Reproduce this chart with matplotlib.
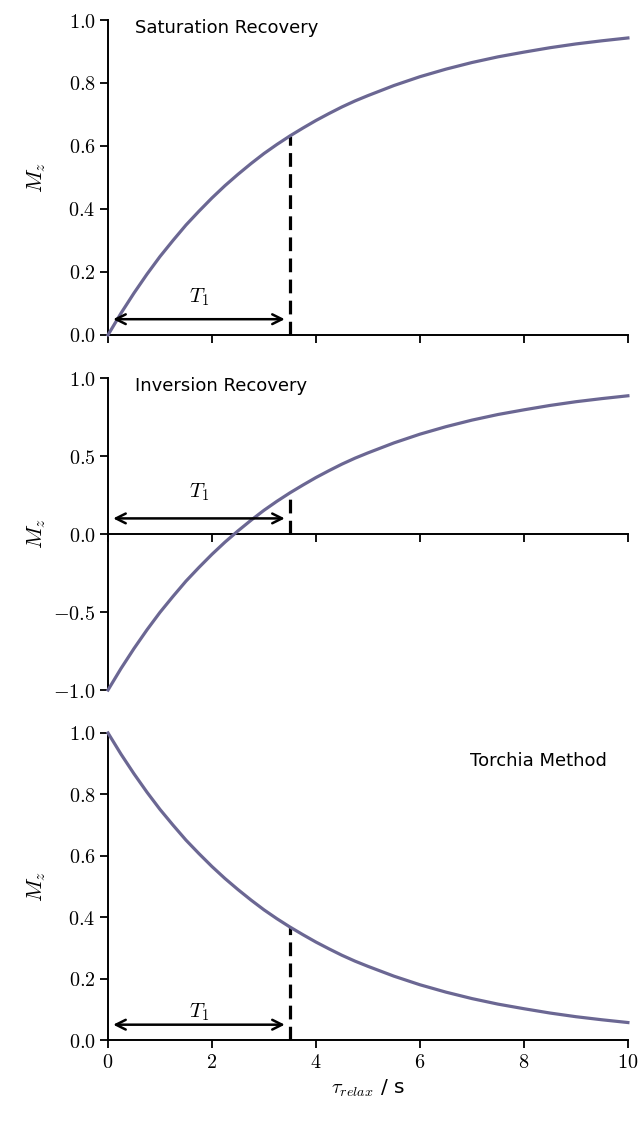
import matplotlib
matplotlib.use("Agg")
import matplotlib.pyplot as plt
from matplotlib.ticker import FormatStrFormatter

plt.rcParams['mathtext.fontset'] = 'cm'
plt.rcParams['font.family'] = ['DejaVu Sans']

# values
tau = [0.0, 0.25, 0.5, 0.75, 1.0, 1.25, 1.5, 1.75, 2.0, 2.25, 2.5, 2.75, 3.0, 3.25, 3.5,
       3.75, 4.0, 4.25, 4.5, 4.75, 5.0, 5.5, 6.0, 6.5, 7.0, 7.5, 8.0, 8.5, 9.0, 9.5, 10.0]
sat_rec = [0.000, 0.069, 0.133, 0.193, 0.249, 0.300, 0.349, 0.393, 0.435, 0.474, 0.510,
           0.544, 0.576, 0.605, 0.632, 0.657, 0.681, 0.703, 0.724, 0.743, 0.760,
           0.792, 0.820, 0.844, 0.865, 0.883, 0.898, 0.912, 0.924, 0.934, 0.943]
inv_rec = [-1.000, -0.862, -0.734, -0.614, -0.502, -0.400, -0.302, -0.214, -0.130, -0.052, 0.020,
           0.088, 0.152, 0.210, 0.264, 0.314, 0.362, 0.406, 0.448, 0.486, 0.520,
           0.584, 0.640, 0.688, 0.730, 0.766, 0.796, 0.824, 0.848, 0.868, 0.886]
torchia = [1.000, 0.931, 0.867, 0.807, 0.751, 0.700, 0.651, 0.607, 0.565, 0.526, 0.490,
           0.456, 0.424, 0.395, 0.368, 0.343, 0.319, 0.297, 0.276, 0.257, 0.240,
           0.208, 0.180, 0.156, 0.135, 0.117, 0.102, 0.088, 0.076, 0.066, 0.057]
T1 = 3.5

titles = ["Saturation Recovery", "Inversion Recovery", "Torchia Method"]
series = [sat_rec, inv_rec, torchia]
ylims = [(0, 1), (-1, 1), (0, 1)]
yticks = [[0, 0.2, 0.4, 0.6, 0.8, 1.0], [-1.0, -0.5, 0.0, 0.5, 1.0], [0, 0.2, 0.4, 0.6, 0.8, 1.0]]
arrow_y = [0.05, 0.1, 0.05]
label_y = [0.12, 0.27, 0.09]
title_pos = [(0.52, 0.975, "left"), (0.52, 0.95, "left"), (9.6, 0.91, "right")]

boxes = [(0.1677, 0.7020, 0.8073, 0.2802),
         (0.1677, 0.3861, 0.8073, 0.2776),
         (0.1677, 0.0747, 0.8073, 0.2732)]

fig = plt.figure(figsize=(6.44, 11.24), dpi=100)
line_col = "#6b6793"

for i in range(3):
    ax = fig.add_axes(boxes[i])
    y = series[i]
    ax.plot(tau, y, color=line_col, lw=2.3, clip_on=False, zorder=3)
    # dashed marker at T1
    yT = y[tau.index(T1)]
    ax.plot([T1, T1], [0, yT], color="black", lw=2.3, ls=(0, (4.3, 2.3)), zorder=2)
    ax.annotate("", xy=(0.1, arrow_y[i]), xytext=(3.4, arrow_y[i]),
                arrowprops=dict(arrowstyle="<->,head_length=0.7,head_width=0.35",
                                color="black", lw=1.8, shrinkA=0, shrinkB=0))
    ax.text(1.75, label_y[i], r"$T_1$", ha="center", va="center", fontsize=15)

    ax.set_xlim(0, 10)
    ax.set_ylim(*ylims[i])
    ax.set_yticks(yticks[i])
    ax.set_xticks([0, 2, 4, 6, 8, 10])
    ax.yaxis.set_major_formatter(FormatStrFormatter(r"$%.1f$"))
    ax.xaxis.set_major_formatter(FormatStrFormatter(r"$%d$"))
    for s in ["top", "right"]:
        ax.spines[s].set_visible(False)
    for s in ["left", "bottom"]:
        ax.spines[s].set_linewidth(1.4)
    if i == 1:
        ax.spines["bottom"].set_position(("data", 0))
    ax.tick_params(width=1.3, length=5.5, labelsize=14.5, direction="out")
    if i < 2:
        ax.tick_params(axis="x", labelbottom=False)
    ax.set_ylabel(r"$M_z$", fontsize=16)
    ax.yaxis.set_label_coords(-0.115, 0.5)

    tx, ty, ha = title_pos[i]
    ax.text(tx, ty, titles[i], fontsize=13, ha=ha, va="center")

    if i == 2:
        ax.set_xlabel(r"$\tau_{relax}$ / s", fontsize=14.5)

fig.savefig("out.png", dpi=100)
